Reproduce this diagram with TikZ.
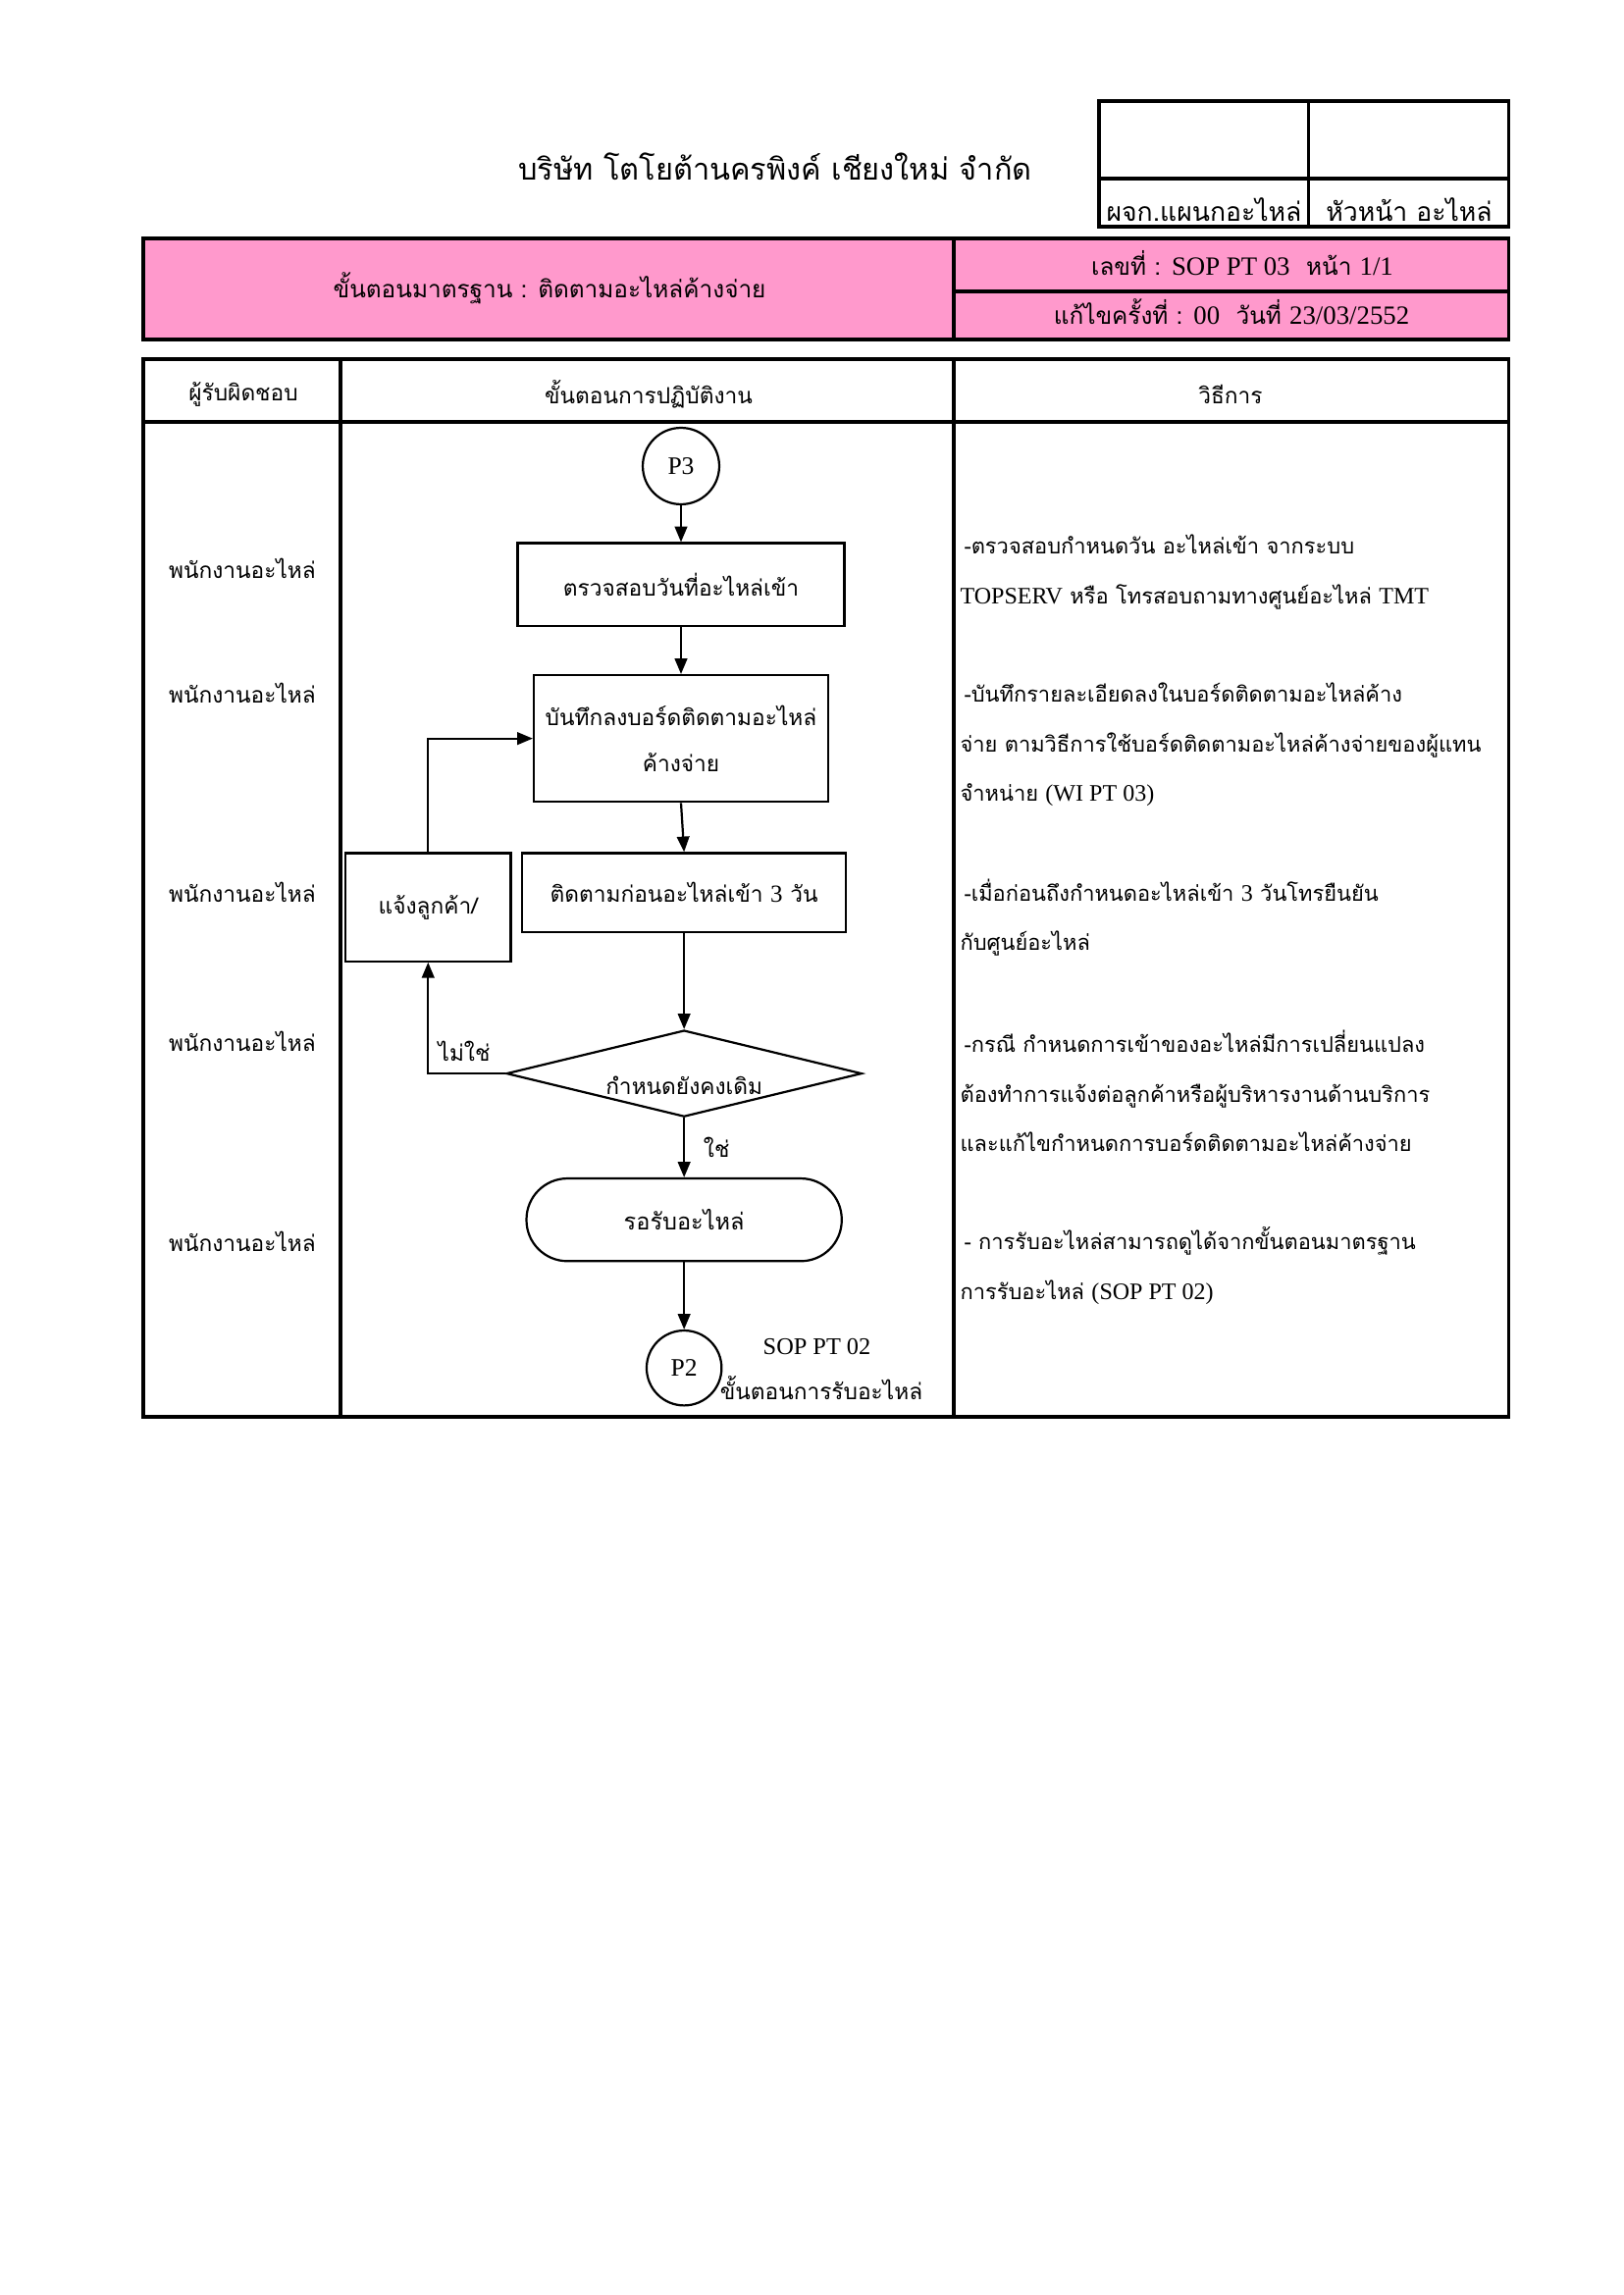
\documentclass[tikz,border=0pt]{standalone}
\usepackage{fontspec}
\setmainfont{Loma}[Script=Thai]
\newfontfamily\latn{Liberation Serif}[Scale=1.1]
\usetikzlibrary{shapes.geometric, arrows.meta, positioning}
\definecolor{FormPink}{HTML}{FF99CC}

\begin{document}
\begin{tikzpicture}[
        x=0.127mm, y=-0.127mm,
        node distance=6mm,
        % Estilos para los pasos
        stepbox/.style={
                rectangle,
                draw,
                line width=0.8pt,
                minimum width=42.3mm,
                minimum height=10.7mm,
                align=center,
                font=\fontsize{8.2}{17}\selectfont
            },
        % Conectores de página
        linkcircle/.style={
                circle,
                draw,
                line width=0.8pt,
                minimum size=9.9mm,
                inner sep=0pt,
                font=\latn\fontsize{8.4}{11}\selectfont
            },
        % Decisión
        decision/.style={
                diamond,
                draw,
                line width=0.8pt,
                minimum width=46mm,
                minimum height=11.2mm,
                inner sep=0pt
            },
        % Inicio / fin
        terminal/.style={
                rectangle,
                rounded corners=5.3mm,
                draw,
                line width=0.8pt,
                minimum width=40.8mm,
                minimum height=10.7mm,
                font=\fontsize{8.5}{11}\selectfont
            },
        % Flechas
        arrow/.style={
                -{Triangle[length=2mm,width=1.6mm]},
                line width=0.8pt
            },
        % Líneas de la tabla
        rule/.style={
                line width=1.1pt
            },
        plain/.style={
                font=\fontsize{8.2}{11}\selectfont
            },
        celltext/.style={
                anchor=west,
                align=left,
                inner sep=0pt,
                font=\fontsize{7.9}{18.3}\selectfont
            }
    ]

    \useasboundingbox (0,0) rectangle (1654,2339);

    % Título principal
    \node[font=\fontsize{11.1}{14}\selectfont] (empresa) at (790,170) {บริษัท โตโยต้านครพิงค์ เชียงใหม่ จำกัด};

    % Firmas
    \draw[rule] (1120,103) rectangle (1537,231);
    \draw[rule] (1333,103) -- (1333,231);
    \draw[rule] (1120,182) -- (1537,182);
    \node[font=\fontsize{9.6}{12}\selectfont] (firma1) at (1227,214) {ผจก.แผนกอะไหล่};
    \node[font=\fontsize{9.6}{12}\selectfont] (firma2) at (1436,214) {หัวหน้า อะไหล่};

    % Encabezado rosa
    \fill[FormPink] (146,243) rectangle (1537,346);
    \draw[rule] (146,243) rectangle (1537,346);
    \draw[rule] (972,243) -- (972,346);
    \draw[rule] (972,297) -- (1537,297);
    \node[font=\fontsize{8.8}{12}\selectfont] (norma) at (560,294) {ขั้นตอนมาตรฐาน : ติดตามอะไหล่ค้างจ่าย};
    \node[font=\fontsize{8.8}{12}\selectfont] (numero) at (1266,268) {เลขที่ : {\latn SOP PT 03}\ \ หน้า {\latn 1/1}};
    \node[font=\fontsize{8.8}{12}\selectfont] (revision) at (1255,318) {แก้ไขครั้งที่ : {\latn 00}\ \ วันที่ {\latn 23/03/2552}};

    % Tabla
    \draw[rule] (146,366) rectangle (1537,1444);
    \draw[rule] (146,430) -- (1537,430);
    \draw[rule] (347,366) -- (347,1444);
    \draw[rule] (972,366) -- (972,1444);
    \node[plain] (col1) at (248,402) {ผู้รับผิดชอบ};
    \node[plain] (col2) at (661,402) {ขั้นตอนการปฏิบัติงาน};
    \node[plain] (col3) at (1254,402) {วิธีการ};

    % Responsables
    \node[plain] (resp1) at (247,579) {พนักงานอะไหล่};
    \node[plain] (resp2) at (247,706) {พนักงานอะไหล่};
    \node[plain] (resp3) at (247,909) {พนักงานอะไหล่};
    \node[plain] (resp4) at (247,1061) {พนักงานอะไหล่};
    \node[plain] (resp5) at (247,1265) {พนักงานอะไหล่};

    % Diagrama
    \node[linkcircle] (p3) at (694,475) {P3};
    \node[stepbox, below=4.75mm of p3] (revisar) {ตรวจสอบวันที่อะไหล่เข้า};
    \node[stepbox, below=6.1mm of revisar, minimum width=38.1mm, minimum height=16.4mm] (registrar) {บันทึกลงบอร์ดติดตามอะไหล่\\ค้างจ่าย};
    \node[stepbox, below=6.35mm of registrar, xshift=0.4mm, minimum width=41.9mm, minimum height=10.2mm] (seguir) {ติดตามก่อนอะไหล่เข้า {\latn 3} วัน};
    \node[stepbox, below left=0mm and 1.2mm of seguir.north west, minimum width=21.4mm, minimum height=14mm] (avisar) {แจ้งลูกค้า/};
    \node[decision, below=12.45mm of seguir] (mismo) {};
    \node[plain, yshift=-1.5mm] (mismotxt) at (mismo.center) {กำหนดยังคงเดิม};
    \node[terminal, below=7.7mm of mismo] (esperar) {รอรับอะไหล่};
    \node[linkcircle, below=8.7mm of esperar, minimum size=9.7mm] (p2) {P2};
    \node[anchor=west, font=\latn\fontsize{8}{11}\selectfont] (refsop) at ([xshift=4mm, yshift=2.7mm]p2.east) {SOP PT 02};
    \node[plain, anchor=west, inner sep=0pt] (refpaso) at ([xshift=-0.4mm, yshift=-2.6mm]p2.east) {ขั้นตอนการรับอะไหล่};

    % Flechas
    \draw[arrow] (p3) -- (revisar);
    \draw[arrow] (revisar) -- (registrar);
    \draw[arrow] (registrar.south) -- (seguir.north);
    \draw[arrow] (seguir) -- (mismo);
    \draw[arrow] (mismo) -- node[plain, right=1.2mm] (si) {ใช่} (esperar);
    \draw[arrow] (esperar) -- (p2);
    \draw[arrow] (mismo.west) -| node[plain, pos=0.6, right] (no) {ไม่ใช่} (avisar.south);
    \draw[arrow] (avisar.north) |- (registrar.west);

    % Métodos
    \node[celltext] (met1) at (978,583) {\hspace*{0.5mm}-ตรวจสอบกำหนดวัน อะไหล่เข้า จากระบบ\\{\latn TOPSERV} หรือ โทรสอบถามทางศูนย์อะไหล่ {\latn TMT}};
    \node[celltext] (met2) at (978,759) {\hspace*{0.5mm}-บันทึกรายละเอียดลงในบอร์ดติดตามอะไหล่ค้าง\\จ่าย ตามวิธีการใช้บอร์ดติดตามอะไหล่ค้างจ่ายของผู้แทน\\จำหน่าย {\latn (WI PT 03)}};
    \node[celltext] (met3) at (978,935) {\hspace*{0.5mm}-เมื่อก่อนถึงกำหนดอะไหล่เข้า {\latn 3} วันโทรยืนยัน\\กับศูนย์อะไหล่};
    \node[celltext] (met4) at (978,1112) {\hspace*{0.5mm}-กรณี กำหนดการเข้าของอะไหล่มีการเปลี่ยนแปลง\\ต้องทำการแจ้งต่อลูกค้าหรือผู้บริหารงานด้านบริการ\\และแก้ไขกำหนดการบอร์ดติดตามอะไหล่ค้างจ่าย};
    \node[celltext] (met5) at (978,1290) {\hspace*{0.5mm}- การรับอะไหล่สามารถดูได้จากขั้นตอนมาตรฐาน\\การรับอะไหล่ {\latn (SOP PT 02)}};

\end{tikzpicture}
\end{document}
